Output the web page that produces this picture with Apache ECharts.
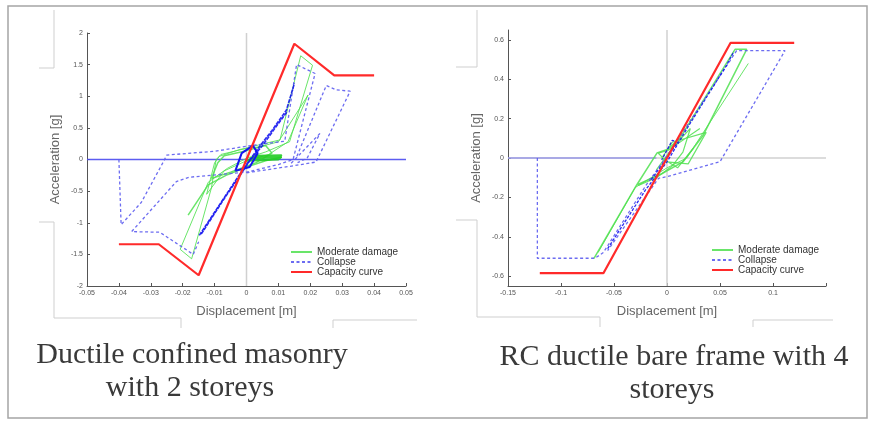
<!DOCTYPE html>
<html><head><meta charset="utf-8">
<script src="https://cdn.jsdelivr.net/npm/echarts@6/dist/echarts.min.js"></script>
<style>html,body{margin:0;padding:0;background:#fff}#c{width:871px;height:424px}</style>
</head><body><div id="c"></div>
<script>
// ---------- Left panel: Ductile confined masonry with 2 storeys ----------
const leftCapacity = [[-0.040,-1.34],[-0.0275,-1.34],[-0.0150,-1.83],[0.0150,1.83],[0.0275,1.33],[0.040,1.33]];
const leftModerate1 = [[-0.0095,0.00],[-0.0080,0.08],[-0.0030,0.14],[0.0030,0.22],[0.0105,0.31],[0.0170,1.64],[0.0207,1.49],[0.0135,0.28],[0.0060,0.12],[0.0000,0.02],[-0.0060,-0.14],[-0.0120,-0.36],[-0.0208,-1.42],[-0.0172,-1.57],[-0.0110,-0.45],[-0.0095,0.00]];
const leftModerate2 = [[-0.0183,-0.88],[-0.0120,-0.40],[-0.0060,-0.24],[0.0000,-0.12],[0.0060,-0.02],[0.0110,0.04]];
const leftModerate3 = [[-0.0125,-0.55],[-0.0100,-0.05],[-0.0085,0.05],[-0.0020,0.16],[0.0040,0.20],[0.0100,0.28],[0.0193,1.02],[0.0130,0.28],[0.0070,0.08],[0.0000,-0.02],[-0.0070,-0.18],[-0.0125,-0.55]];
const leftModerate4 = [[-0.0110,-0.30],[-0.0090,-0.05],[-0.0070,0.06],[0.0000,0.14],[0.0060,0.22],[0.0080,0.10],[0.0030,-0.05],[-0.0050,-0.20],[-0.0110,-0.30]];
const leftModerate5 = [[0.0010,0.02],[0.0105,0.03],[0.0110,0.07],[0.0030,0.06],[0.0000,-0.02],[0.0100,0.00],[0.0110,0.04],[0.0020,0.03],[0.0060,0.05],[0.0105,0.01]];
const leftCollapseA = [[-0.0400,0.00],[-0.0393,-1.03],[-0.0330,-0.68],[-0.0262,-0.05],[-0.0250,0.07],[-0.0100,0.13],[0.0000,0.21],[0.0120,0.29],[0.0157,1.50],[0.0215,1.36],[0.0146,0.00],[0.0100,-0.08],[0.0000,-0.20],[-0.0180,-0.28],[-0.0220,-0.35],[-0.0360,-1.14],[-0.0272,-1.15],[-0.0167,-1.50],[-0.0150,-1.30]];
const leftCollapseB = [[0.0000,-0.21],[0.0146,-0.10],[0.0218,-0.04],[0.0325,1.08],[0.0282,1.10],[0.0250,1.17],[0.0157,0.04]];
const leftCollapseC = [[0.0140,-0.06],[0.0230,0.41],[0.0190,0.02],[0.0160,-0.05]];
const leftCollapseBand1 = [[-0.0148,-1.20],[-0.0080,-0.68],[-0.0030,-0.30],[0.0000,-0.08],[0.0040,0.20],[0.0080,0.46],[0.0125,0.78],[0.0150,1.20]];
const leftCollapseBand2 = [[-0.0142,-1.18],[-0.0070,-0.62],[-0.0020,-0.25],[0.0010,-0.02],[0.0050,0.22],[0.0090,0.50],[0.0128,0.76]];
const leftCollapseBlob = [[-0.0035,-0.18],[-0.0015,0.10],[0.0020,0.22],[0.0035,0.10],[0.0010,-0.12],[-0.0035,-0.18]];
const leftBaseLine = [[-0.05,0],[0.05,0]];
const leftZeroV = [[0,-2],[0,2]];

// ---------- Right panel: RC ductile bare frame with 4 storeys ----------
const rightCapacity = [[-0.120,-0.585],[-0.060,-0.585],[0.060,0.585],[0.120,0.585]];
const rightModerate1 = [[-0.0689,-0.510],[-0.0286,-0.137],[-0.0095,0.025],[0.0010,0.045],[0.0120,0.100],[0.0642,0.552],[0.0752,0.552],[0.0343,0.117],[0.0150,-0.020],[-0.0050,-0.080],[-0.0286,-0.137]];
const rightModerate2 = [[0.0767,0.480],[0.0186,0.000],[0.0000,-0.050],[-0.0120,-0.090],[-0.0300,-0.150],[-0.0650,-0.480]];
const rightModerate3 = [[0.0310,0.150],[0.0013,0.040],[-0.0082,0.024],[0.0000,-0.020],[0.0200,-0.030],[0.0370,0.130],[0.0050,0.080],[-0.0050,0.000],[0.0100,-0.050],[0.0250,0.050]];
const rightModerate4 = [[-0.0270,-0.140],[-0.0100,-0.100],[0.0050,-0.040],[0.0150,0.030],[0.0220,0.150],[0.0050,0.050],[-0.0100,-0.060]];
const rightCollapseA = [[-0.1223,0.000],[-0.1223,-0.509],[-0.0679,-0.509],[-0.0600,-0.480],[-0.0200,-0.140],[0.0000,0.010],[0.0657,0.545],[0.1113,0.545],[0.0500,-0.019],[0.0000,-0.095],[-0.0080,-0.103],[-0.0560,-0.470]];
const rightCollapseBand1 = [[-0.0560,-0.460],[-0.0200,-0.160],[0.0000,-0.020],[0.0200,0.160],[0.0563,0.472],[0.0630,0.540]];
const rightCollapseBand2 = [[-0.0150,-0.110],[0.0000,0.000],[0.0100,0.080],[0.0050,0.090],[-0.0050,-0.010]];
const rightBaseLine = [[-0.15,0],[-0.01,0]];
const rightZeroV = [[0,-0.65],[0,0.65]];
const rightZeroH = [[-0.15,0],[0.15,0]];
const rightYTicks = [-0.6,-0.4,-0.2,0,0.2,0.4,0.6];

const legendNames = ['Moderate damage','Collapse','Capacity curve'];
const titleLeft = ['Ductile confined masonry','with 2 storeys'];
const titleRight = ['RC ductile bare frame with 4','storeys'];

const GREEN = '#4fe04f', BLUE = '#5c5cf0', DARKBLUE = '#1414f0', RED = '#ff2a2a', GRAY = '#cfcfcf';
function ln(name, data, idx, color, width, type, opacity, z) {
  return { name: name, type: 'line', xAxisIndex: idx, yAxisIndex: idx, data: data,
    symbol: 'none', silent: true, animation: false, z: z || 2,
    lineStyle: { color: color, width: width, type: type || 'solid', opacity: opacity == null ? 1 : opacity },
    itemStyle: { color: color } };
}
const series = [
  ln('', leftZeroV, 0, '#d0d0d0', 1.5, 'solid', 1, 1),
  ln('', rightZeroV, 1, '#d0d0d0', 1.5, 'solid', 1, 1),
  ln('', rightZeroH, 1, '#d0d0d0', 1.5, 'solid', 1, 1),
  ln('', leftBaseLine, 0, '#4a4af0', 1.5, 'solid', 0.9, 1),
  ln('', rightBaseLine, 1, '#6a6af0', 1.2, 'solid', 0.9, 1),
  ln('Moderate damage', leftModerate1, 0, GREEN, 1, 'solid', 0.85),
  ln('Moderate damage', leftModerate2, 0, GREEN, 1.5, 'solid', 0.85),
  ln('Moderate damage', leftModerate3, 0, GREEN, 1, 'solid', 0.85),
  ln('Moderate damage', leftModerate4, 0, GREEN, 1.5, 'solid', 0.85),
  ln('Moderate damage', leftModerate5, 0, '#22cc22', 1.8, 'solid', 0.9),
  ln('Moderate damage', rightModerate1, 1, GREEN, 1.5, 'solid', 0.85),
  ln('Moderate damage', rightModerate2, 1, GREEN, 1, 'solid', 0.85),
  ln('Moderate damage', rightModerate3, 1, GREEN, 1.2, 'solid', 0.85),
  ln('Moderate damage', rightModerate4, 1, GREEN, 1.2, 'solid', 0.85),
  ln('Collapse', leftCollapseA, 0, BLUE, 1.3, [3,2.5], 0.9, 3),
  ln('Collapse', leftCollapseB, 0, BLUE, 1.3, [3,2.5], 0.9, 3),
  ln('Collapse', leftCollapseC, 0, BLUE, 1.3, [3,2.5], 0.9, 3),
  ln('Collapse', leftCollapseBand1, 0, DARKBLUE, 1.6, [4,1], 0.9, 3),
  ln('Collapse', leftCollapseBand2, 0, DARKBLUE, 1.6, [4,1], 0.9, 3),
  ln('Collapse', leftCollapseBlob, 0, DARKBLUE, 2, 'solid', 1, 3),
  ln('Collapse', rightCollapseA, 1, BLUE, 1.3, [3,2.5], 0.9, 3),
  ln('Collapse', rightCollapseBand1, 1, DARKBLUE, 1.3, [3,1.5], 0.9, 3),
  ln('Collapse', rightCollapseBand2, 1, DARKBLUE, 1.3, [3,1.5], 0.9, 3),
  ln('Capacity curve', leftCapacity, 0, RED, 2.2, 'solid', 1, 4),
  ln('Capacity curve', rightCapacity, 1, RED, 2.2, 'solid', 1, 4)
];

const axisCommon = {
  type: 'value', splitLine: { show: false },
  axisLine: { onZero: false, lineStyle: { color: '#555', width: 1 } },
  axisTick: { inside: true, length: 3, lineStyle: { color: '#555' } },
  axisLabel: { fontSize: 7, color: '#555', fontFamily: 'Liberation Sans', margin: 4 },
  nameTextStyle: { fontSize: 13, color: '#666', fontFamily: 'Liberation Sans' },
  nameLocation: 'middle'
};
function ax(extra) { return echarts.util.merge(echarts.util.clone(axisCommon), extra, true); }

const legendCommon = {
  data: legendNames, orient: 'vertical', itemWidth: 21, itemHeight: 10, itemGap: 0,
  padding: 0, selectedMode: false,
  itemStyle: { opacity: 0 },
  textStyle: { fontSize: 10, color: '#333', fontFamily: 'Liberation Sans', lineHeight: 10 }
};

const textStyleT = { font: '30px "Liberation Serif"', fill: '#3a3a3a', textAlign: 'center', textVerticalAlign: 'middle' };
function gline(points) {
  return { type: 'polyline', shape: { points: points }, style: { stroke: GRAY, lineWidth: 1, fill: null }, silent: true };
}

const option = {
  animation: false,
  backgroundColor: '#fff',
  grid: [
    { left: 87, right: 465, top: 33, bottom: 138 },
    { left: 508, right: 45, top: 30, bottom: 138 }
  ],
  xAxis: [
    ax({ gridIndex: 0, min: -0.05, max: 0.05, interval: 0.01, name: 'Displacement [m]', nameGap: 19 }),
    ax({ gridIndex: 1, min: -0.15, max: 0.15, interval: 0.05, name: 'Displacement [m]', nameGap: 19,
         axisLabel: { formatter: function (v) { return Math.abs(v - 0.15) < 1e-9 ? '' : String(Math.round(v*100)/100); } } })
  ],
  yAxis: [
    ax({ gridIndex: 0, min: -2, max: 2, interval: 0.5, name: 'Acceleration [g]', nameGap: 25 }),
    ax({ gridIndex: 1, min: -0.65, max: 0.65, name: 'Acceleration [g]', nameGap: 25,
         axisLabel: { customValues: rightYTicks }, axisTick: { customValues: rightYTicks } })
  ],
  legend: [
    Object.assign({}, legendCommon, { left: 290, top: 247 }),
    Object.assign({}, legendCommon, { left: 711, top: 245 })
  ],
  graphic: [
    { type: 'rect', shape: { x: 8, y: 6, width: 859, height: 412 }, style: { stroke: '#a5a5a5', lineWidth: 1.5, fill: null }, silent: true },
    gline([[54,10],[54,68],[39,68]]),
    gline([[39,222],[54,222],[54,318],[181,318],[181,328]]),
    gline([[333,328],[333,320],[417,320]]),
    gline([[477,10],[477,67],[456,67]]),
    gline([[456,220],[477,220],[477,317],[600,317],[600,327]]),
    gline([[753,327],[753,320],[833,320]]),
    { type: 'text', x: 192, y: 355, style: Object.assign({ text: titleLeft[0] }, textStyleT), silent: true },
    { type: 'text', x: 190, y: 388, style: Object.assign({ text: titleLeft[1] }, textStyleT), silent: true },
    { type: 'text', x: 674, y: 357, style: Object.assign({ text: titleRight[0] }, textStyleT), silent: true },
    { type: 'text', x: 672, y: 390, style: Object.assign({ text: titleRight[1] }, textStyleT), silent: true }
  ],
  series: series
};
const chart = echarts.init(document.getElementById('c'), null, { renderer: 'canvas' });
chart.setOption(option);
</script>
</body></html>
